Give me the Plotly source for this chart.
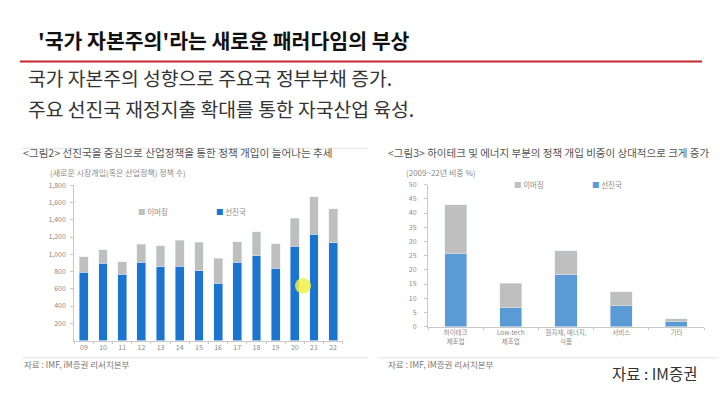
import plotly.graph_objects as go

W, H = 720, 393

# ---------------- data ----------------
years = ["09", "10", "11", "12", "13", "14", "15", "16", "17", "18", "19", "20", "21", "22"]
left_adv = [790, 895, 770, 905, 855, 860, 810, 665, 905, 980, 840, 1090, 1230, 1135]
left_emg = [180, 155, 145, 210, 245, 305, 330, 290, 240, 280, 280, 325, 435, 390]

sectors = ["하이테크<br>제조업", "Low-tech<br>제조업", "원자재, 에너지,<br>식품", "서비스", "기타"]
right_adv = [25.6, 6.6, 18.2, 7.3, 1.7]
right_emg = [17.4, 8.6, 8.5, 5.0, 1.1]

left_yticks = [200, 400, 600, 800, 1000, 1200, 1400, 1600, 1800]
right_yticks = [0, 5, 10, 15, 20, 25, 30, 35, 40, 45, 50]

FONT = "Noto Sans CJK KR"
GRAY = "#bfbfbf"
BLUE_L = "#1a74d0"
BLUE_R = "#5b9bd5"


def px(x):
    return x / W


def py(y):
    return 1 - y / H


fig = go.Figure()

fig.add_trace(go.Bar(x=years, y=left_adv, marker_color=BLUE_L, name="선진국",
                     xaxis="x", yaxis="y", showlegend=False))
fig.add_trace(go.Bar(x=years, y=left_emg, marker_color=GRAY, name="이머징",
                     xaxis="x", yaxis="y", showlegend=False))
fig.add_trace(go.Bar(x=sectors, y=right_adv, marker_color=BLUE_R, name="선진국",
                     xaxis="x2", yaxis="y2", showlegend=False, width=0.4))
fig.add_trace(go.Bar(x=sectors, y=right_emg, marker_color=GRAY, name="이머징",
                     xaxis="x2", yaxis="y2", showlegend=False, width=0.4))

tickfont = dict(family=FONT, size=7, color="#8a8a8a")
axcol = "#c8c8c8"

fig.update_layout(
    width=W, height=H,
    margin=dict(l=0, r=0, t=0, b=0),
    paper_bgcolor="white", plot_bgcolor="white",
    barmode="stack", bargap=0.54,
    font=dict(family=FONT),
    xaxis=dict(domain=[px(74.3), px(342.7)], anchor="y", type="category",
               range=[-0.5, 13.5], showline=True, linecolor=axcol, linewidth=1,
               ticks="outside", ticklen=2, tickcolor=axcol, tickson="boundaries",
               tickfont=tickfont, showgrid=False, zeroline=False),
    yaxis=dict(domain=[py(343.3), py(183.9)], anchor="x", range=[0, 1800],
               tickvals=left_yticks, tickformat=",", showline=True, linecolor=axcol,
               linewidth=1, ticks="outside", ticklen=3, tickcolor=axcol,
               ticklabelstandoff=3,
               tickfont=tickfont, showgrid=False, zeroline=False),
    xaxis2=dict(domain=[px(428), px(704)], anchor="y2", type="category",
                range=[-0.5, 4.5], showline=True, linecolor=axcol, linewidth=1,
                ticks="outside", ticklen=2, tickcolor=axcol, tickson="boundaries",
                tickfont=dict(family=FONT, size=6.5, color="#8a8a8a"),
                showgrid=False, zeroline=False),
    yaxis2=dict(domain=[py(329), py(183.3)], anchor="x2", range=[0, 50],
                tickvals=right_yticks, showline=True, linecolor=axcol,
                linewidth=1, ticks="outside", ticklen=3, tickcolor=axcol,
                ticklabelstandoff=6,
                tickfont=tickfont, showgrid=False, zeroline=False),
)

ann = []


def text(x, y, s, size, color, bold=False, xanchor="left"):
    if bold:
        s = "<b>" + s + "</b>"
    ann.append(dict(x=px(x), y=py(y), xref="paper", yref="paper", text=s,
                    showarrow=False, xanchor=xanchor, yanchor="middle", align="left",
                    font=dict(family=FONT, size=size, color=color)))


# slide title and bullets
text(36, 35, "'국가 자본주의'라는 새로운 패러다임의 부상", 20.5, "#111111", bold=True)
text(26, 74, "국가 자본주의 성향으로 주요국 정부부채 증가.", 19.3, "#333333")
text(26, 106, "주요 선진국 재정지출 확대를 통한 자국산업 육성.", 19.3, "#333333")

# chart titles
text(21, 150, "&lt;그림2&gt; 선진국을 중심으로 산업정책을 통한 정책 개입이 늘어나는 추세", 10.6, "#555555")
text(386, 150, "&lt;그림3&gt; 하이테크 및 에너지 부분의 정책 개입 비중이 상대적으로 크게 증가", 10.5, "#555555")

# axis subtitles
text(48, 171, "(새로운 시장개입(혹은 산업정책) 정책 수)", 8, "#8a8a8a")
text(404, 171, "(2009~22년 비중 %)", 8, "#8a8a8a")

# legends
text(136, 211, f"<span style='color:{GRAY}'>■</span> 이머징", 7.5, "#8a8a8a")
text(214, 211, f"<span style='color:{BLUE_L}'>■</span> 선진국", 7.5, "#8a8a8a")
text(512, 183, f"<span style='color:{GRAY}'>■</span> 이머징", 7.5, "#8a8a8a")
text(590, 183, f"<span style='color:{BLUE_R}'>■</span> 선진국", 7.5, "#8a8a8a")

# sources
text(22, 367, "자료 : IMF, iM증권 리서치본부", 8.5, "#777777")
text(386, 367, "자료 : IMF, iM증권 리서치본부", 8.5, "#777777")
text(610, 377, "자료 : IM증권", 15.5, "#333333")

fig.update_layout(annotations=ann)

shapes = [
    # red rule under title
    dict(type="line", xref="paper", yref="paper", x0=px(20), x1=px(702),
         y0=py(57), y1=py(57), line=dict(color="#c0282d", width=2)),
    # panel separator lines
    dict(type="line", xref="paper", yref="paper", x0=px(22), x1=px(368),
         y0=py(146), y1=py(146), line=dict(color="#e3e3e3", width=1)),
    dict(type="line", xref="paper", yref="paper", x0=px(22), x1=px(368),
         y0=py(361), y1=py(361), line=dict(color="#e3e3e3", width=1)),
    dict(type="line", xref="paper", yref="paper", x0=px(378), x1=px(718),
         y0=py(361), y1=py(361), line=dict(color="#e3e3e3", width=1)),
    # cursor highlight
    dict(type="circle", xref="paper", yref="paper", x0=px(295), x1=px(311),
         y0=py(295), y1=py(279), fillcolor="rgba(240,240,70,0.85)",
         line=dict(width=0)),
]
fig.update_layout(shapes=shapes)

fig.write_html("out.html", config={"displayModeBar": False},
               post_script="document.body.style.margin='0';document.body.style.overflow='hidden';")
